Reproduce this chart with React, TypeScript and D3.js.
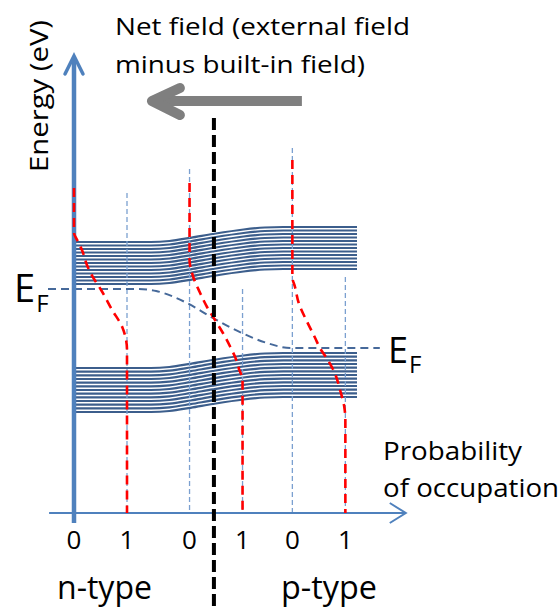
import React, { useEffect, useRef } from 'react';
import * as d3 from 'd3';

// x is in "probability units": each occupation plot spans 0..1 from its start
const columnStarts = [0, 2.18, 4.12];
const tickLabels = ['0', '1', '0', '1', '0', '1'];

// Fermi-Dirac occupation curves, [energy, probability]
const fdN = [[32.5, 0], [28.0, 0], [27.3, 0.06], [26.3, 0.15], [24.6, 0.26], [23.3, 0.39], [22.4, 0.5], [20.3, 0.72], [18.6, 0.91], [16.3, 1], [0, 1]];
const fdMid = [[33.0, 0], [25.3, 0], [23.6, 0.07], [22.0, 0.2], [20.6, 0.33], [19.3, 0.48], [18.0, 0.63], [16.6, 0.77], [15.6, 0.86], [14.3, 0.94], [13.4, 1], [0, 1]];
const fdP = [[35.3, 0], [23.6, 0], [22.6, 0.05], [21.0, 0.12], [19.1, 0.28], [17.5, 0.43], [16.5, 0.52], [15.3, 0.67], [14.0, 0.8], [12.3, 0.9], [10.6, 0.98], [9.3, 1], [0, 1]];

// top energy of the thin guide lines (n:1, mid:0,1, p:0,1)
const guideTops = [32, 34.4, 22.4, 36.5, 23.6];

// band bending profile [x, energy shift]
const bandShift = [[0.02, 0], [1.45, 0], [1.8, 0.1], [2.2, 0.42], [2.62, 0.8], [3.2, 1.25], [3.6, 1.45], [3.95, 1.5], [5.34, 1.5]];
const conductionBand = [22.9, 27.1];
const valenceBand = [10.1, 14.5];
const bandLineCount = 13;

// Fermi level [x, energy]
const fermiLevel = [[-0.49, 22.4], [1.2, 22.4], [1.55, 22.2], [2.13, 21.0], [2.62, 19.5], [3.17, 18.0], [3.64, 17.0], [4.08, 16.5], [5.77, 16.5]];

const junctionPos = 2.64;
const fieldArrow = { from: 4.3, to: 1.47, energy: 41.2 };

const App = () => {
  const svgRef = useRef<SVGSVGElement>(null);

  useEffect(() => {
    const width = 560;
    const height = 610;
    const font = '"Open Sans", "DejaVu Sans", sans-serif';

    d3.select(svgRef.current).selectAll('*').remove();
    const svg = d3.select(svgRef.current)
      .attr('width', width)
      .attr('height', height)
      .style('background', '#fff');

    const x = d3.scaleLinear().domain([0, 1]).range([74, 127]);
    const y = d3.scaleLinear().domain([0, 10]).range([513, 413]);

    // energy bands
    const bands = [conductionBand, valenceBand];
    bands.forEach(([lo, hi]) => {
      d3.range(bandLineCount).forEach(i => {
        const e = lo + (hi - lo) * i / (bandLineCount - 1);
        const line = d3.line<number[]>()
          .x(d => x(d[0]))
          .y(d => y(e + d[1]))
          .curve(d3.curveMonotoneX);
        svg.append('path')
          .attr('d', line(bandShift))
          .attr('fill', 'none')
          .attr('stroke', '#3c5e8c')
          .attr('stroke-width', 2.2);
      });
    });

    // thin guide lines at 0 and 1 of each column
    const guideXs = [columnStarts[0] + 1, columnStarts[1], columnStarts[1] + 1, columnStarts[2], columnStarts[2] + 1];
    guideXs.forEach((gx, i) => {
      svg.append('line')
        .attr('x1', x(gx)).attr('x2', x(gx))
        .attr('y1', y(guideTops[i])).attr('y2', y(0))
        .attr('stroke', '#7ba0d0')
        .attr('stroke-width', 1.3)
        .attr('stroke-dasharray', '5,3');
    });

    // Fermi level
    const fermiLine = d3.line<number[]>()
      .x(d => x(d[0]))
      .y(d => y(d[1]))
      .curve(d3.curveMonotoneX);
    svg.append('path')
      .attr('d', fermiLine(fermiLevel))
      .attr('fill', 'none')
      .attr('stroke', '#46699a')
      .attr('stroke-width', 2)
      .attr('stroke-dasharray', '8,5');

    // axes
    const axisColor = '#4f81bd';
    svg.append('line')
      .attr('x1', x(0)).attr('x2', x(0))
      .attr('y1', y(-1)).attr('y2', y(45.4))
      .attr('stroke', axisColor)
      .attr('stroke-width', 4.5);
    svg.append('path')
      .attr('d', `M${x(0) - 9},${y(45.7) + 18}L${x(0)},${y(45.7)}L${x(0) + 9},${y(45.7) + 18}`)
      .attr('fill', 'none')
      .attr('stroke', axisColor)
      .attr('stroke-width', 3.5)
      .attr('stroke-linecap', 'round');

    const axisEnd = x(6.26);
    svg.append('line')
      .attr('x1', x(-0.47)).attr('x2', axisEnd)
      .attr('y1', y(0)).attr('y2', y(0))
      .attr('stroke', axisColor)
      .attr('stroke-width', 2);
    svg.append('path')
      .attr('d', `M${axisEnd - 16},${y(0) - 10}L${axisEnd},${y(0)}L${axisEnd - 16},${y(0) + 10}`)
      .attr('fill', 'none')
      .attr('stroke', axisColor)
      .attr('stroke-width', 2);

    // occupation curves (on top of the axis, as in the original)
    [fdN, fdMid, fdP].forEach((pts, i) => {
      const line = d3.line<number[]>()
        .x(d => x(columnStarts[i] + d[1]))
        .y(d => y(d[0]))
        .curve(d3.curveMonotoneY);
      svg.append('path')
        .attr('d', line(pts))
        .attr('fill', 'none')
        .attr('stroke', '#ff0000')
        .attr('stroke-width', 2.6)
        .attr('stroke-dasharray', '9,6');
    });

    // junction
    svg.append('line')
      .attr('x1', x(junctionPos)).attr('x2', x(junctionPos))
      .attr('y1', y(39.5)).attr('y2', height)
      .attr('stroke', '#000')
      .attr('stroke-width', 4)
      .attr('stroke-dasharray', '12,5');

    // tick labels
    const tickPos = columnStarts.flatMap(c => [c, c + 1]);
    svg.selectAll('.tick')
      .data(tickLabels)
      .join('text')
      .attr('class', 'tick')
      .attr('x', (d, i) => x(tickPos[i]))
      .attr('y', 549)
      .attr('text-anchor', 'middle')
      .style('font-family', font)
      .style('font-size', '26px')
      .text(d => d);

    // field arrow
    svg.append('path')
      .attr('d', `M${x(fieldArrow.from)},${y(fieldArrow.energy)}L${x(fieldArrow.to) + 4},${y(fieldArrow.energy)}`)
      .attr('stroke', '#7f7f7f')
      .attr('stroke-width', 10);
    svg.append('path')
      .attr('d', `M${x(fieldArrow.to) + 28},${y(fieldArrow.energy) - 13}L${x(fieldArrow.to)},${y(fieldArrow.energy)}L${x(fieldArrow.to) + 28},${y(fieldArrow.energy) + 14}`)
      .attr('fill', 'none')
      .attr('stroke', '#7f7f7f')
      .attr('stroke-width', 10)
      .attr('stroke-linecap', 'round')
      .attr('stroke-linejoin', 'round');

    const addText = (t: string, tx: number, ty: number, size: number, len?: number) => {
      const el = svg.append('text')
        .attr('x', tx)
        .attr('y', ty)
        .style('font-family', font)
        .style('font-size', `${size}px`)
        .style('fill', '#000')
        .text(t);
      if (len) el.attr('textLength', len).attr('lengthAdjust', 'spacingAndGlyphs');
      return el;
    };

    addText('Net field (external field', 115, 35, 24, 295);
    addText('minus built-in field)', 115, 73, 24, 250);
    addText('Probability', 383, 460, 25, 139);
    addText('of occupation', 383, 497, 25, 176);
    addText('n-type', 57, 599, 32, 95);
    addText('p-type', 281, 599, 32, 96);

    // E_F labels, subscript as a tspan
    const fermiLabel = (tx: number, ty: number, size: number) => {
      const t = svg.append('text')
        .attr('x', tx)
        .attr('y', ty)
        .style('font-family', font)
        .style('font-size', `${size}px`);
      t.append('tspan').text('E');
      t.append('tspan').attr('dy', 10).attr('dx', 1).style('font-size', '24px').text('F');
    };
    fermiLabel(14, 302, 38);
    fermiLabel(388, 363, 36);

    // energy axis label
    svg.append('text')
      .attr('transform', 'translate(48,172) rotate(-90)')
      .style('font-family', font)
      .style('font-size', '25px')
      .attr('textLength', 152)
      .attr('lengthAdjust', 'spacingAndGlyphs')
      .text('Energy (eV)');
  }, []);

  return (
    <div style={{ position: 'absolute', left: 0, top: 0 }}>
      <svg ref={svgRef}></svg>
    </div>
  );
};

export default App;
